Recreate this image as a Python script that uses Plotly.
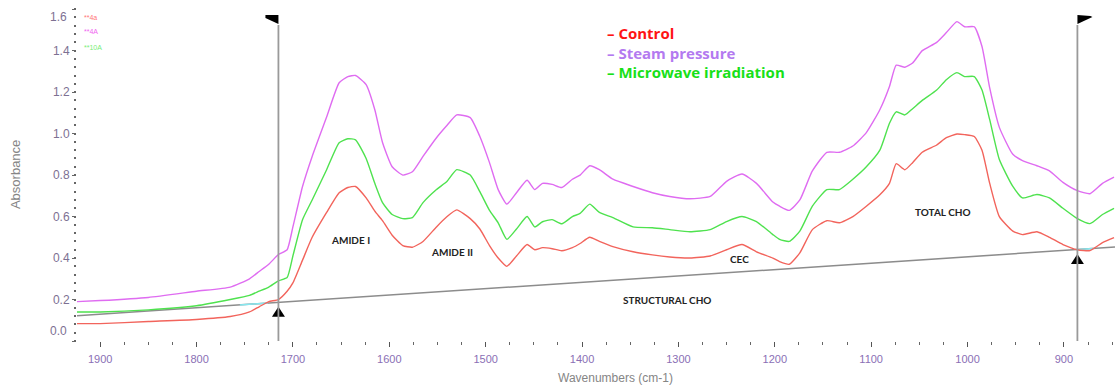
import numpy as np
import plotly.graph_objects as go

# ---------------- data ----------------
wavenumber = [1924, 1900, 1850, 1800, 1765, 1745, 1735, 1725, 1715, 1706,
              1700, 1690, 1680, 1665, 1652, 1643, 1635, 1624, 1615, 1607,
              1597, 1586, 1576, 1565, 1551, 1540, 1530, 1516, 1506, 1496,
              1487, 1478, 1468, 1457, 1449, 1441, 1431, 1421, 1410, 1402,
              1392, 1382, 1368, 1347, 1327, 1309, 1288, 1267, 1250, 1234,
              1219, 1202, 1195, 1185, 1174, 1161, 1146, 1133, 1119, 1105,
              1091, 1081, 1074, 1065, 1057, 1047, 1032, 1022, 1011, 1003,
              993, 985, 977, 967, 953, 943, 928, 915, 901, 886,
              873, 860, 848]

control = [0.084, 0.084, 0.094, 0.104, 0.118, 0.14, 0.165, 0.19, 0.20, 0.24,
           0.28, 0.39, 0.50, 0.62, 0.715, 0.74, 0.745, 0.69, 0.626, 0.58,
           0.51, 0.46, 0.452, 0.48, 0.55, 0.60, 0.632, 0.59, 0.54, 0.46,
           0.40, 0.36, 0.41, 0.465, 0.44, 0.45, 0.445, 0.435, 0.45, 0.47,
           0.50, 0.48, 0.455, 0.43, 0.415, 0.405, 0.40, 0.41, 0.44, 0.465,
           0.43, 0.40, 0.383, 0.37, 0.425, 0.537, 0.58, 0.57, 0.60, 0.65,
           0.705, 0.76, 0.855, 0.826, 0.86, 0.91, 0.945, 0.98, 0.998, 0.995,
           0.986, 0.92, 0.76, 0.60, 0.53, 0.513, 0.527, 0.50, 0.465, 0.44,
           0.436, 0.474, 0.498]

steam = [0.19, 0.195, 0.21, 0.24, 0.26, 0.30, 0.335, 0.37, 0.417, 0.44,
         0.55, 0.745, 0.89, 1.08, 1.245, 1.275, 1.28, 1.236, 1.115, 0.957,
         0.84, 0.80, 0.816, 0.89, 0.98, 1.04, 1.09, 1.077, 0.986, 0.86,
         0.73, 0.66, 0.715, 0.775, 0.73, 0.76, 0.755, 0.74, 0.78, 0.80,
         0.845, 0.826, 0.78, 0.745, 0.715, 0.697, 0.686, 0.697, 0.77, 0.805,
         0.76, 0.67, 0.65, 0.63, 0.68, 0.82, 0.91, 0.91, 0.94, 1.005,
         1.115, 1.227, 1.33, 1.32, 1.34, 1.40, 1.44, 1.487, 1.54, 1.515,
         1.515, 1.42, 1.22, 1.03, 0.90, 0.87, 0.845, 0.82, 0.765, 0.725,
         0.71, 0.76, 0.79]

microwave = [0.14, 0.14, 0.15, 0.17, 0.20, 0.22, 0.24, 0.26, 0.29, 0.306,
             0.41, 0.585, 0.68, 0.826, 0.956, 0.975, 0.97, 0.88, 0.76, 0.667,
             0.61, 0.59, 0.595, 0.667, 0.73, 0.77, 0.826, 0.80, 0.72, 0.63,
             0.57, 0.49, 0.54, 0.60, 0.55, 0.575, 0.585, 0.565, 0.60, 0.615,
             0.66, 0.62, 0.595, 0.55, 0.546, 0.537, 0.527, 0.537, 0.576, 0.60,
             0.576, 0.513, 0.49, 0.48, 0.53, 0.65, 0.73, 0.73, 0.78, 0.84,
             0.92, 1.05, 1.105, 1.09, 1.12, 1.16, 1.21, 1.26, 1.294, 1.275,
             1.275, 1.21, 1.067, 0.875, 0.745, 0.69, 0.706, 0.69, 0.64, 0.59,
             0.566, 0.61, 0.64]

baseline_x = [1924, 847]
baseline_y = [0.122, 0.453]

region_bounds = [1715, 886]          # integration limits (vertical markers)
marker_top = 1.524                    # top of the vertical marker lines

y_ticks = [0.0, 0.2, 0.4, 0.6, 0.8, 1.0, 1.2, 1.4, 1.6]
x_ticks = [1900, 1800, 1700, 1600, 1500, 1400, 1300, 1200, 1100, 1000, 900]

series_names = ["Control", "Steam pressure", "Microwave irradiation"]
series_line_colors = ["#f2645c", "#df6cf1", "#4fe24f"]
legend_text_colors = ["#ff1414", "#b37af0", "#18e018"]
file_tags = ["**4a", "**4A", "**10A"]
file_tag_colors = ["#ff7777", "#f066f0", "#77ee77"]

region_labels = ["AMIDE I", "AMIDE II", "CEC", "STRUCTURAL CHO", "TOTAL CHO"]
region_label_x = [1640, 1535, 1237, 1312, 1025]
region_label_y = [0.489, 0.427, 0.393, 0.197, 0.624]

# ---------------- figure ----------------
fig = go.Figure()

fig.add_trace(go.Scatter(x=baseline_x, y=baseline_y, mode="lines",
                         line=dict(color="#8c8c8c", width=1.5),
                         hoverinfo="skip"))

# little cyan baseline pieces at the anchors
bx = np.array(baseline_x[::-1], dtype=float)
by = np.array(baseline_y[::-1], dtype=float)
for a, b in [(1755, 1726), (885, 870)]:
    xs = [a, b]
    fig.add_trace(go.Scatter(x=xs, y=list(np.interp(xs, bx, by)), mode="lines",
                             line=dict(color="#86e8f0", width=1.5),
                             hoverinfo="skip"))

for vals, col, nm in [(microwave, series_line_colors[2], series_names[2]),
                      (steam, series_line_colors[1], series_names[1]),
                      (control, series_line_colors[0], series_names[0])]:
    fig.add_trace(go.Scatter(x=wavenumber, y=vals, mode="lines", name=nm,
                             line=dict(color=col, width=1.4, shape="spline",
                                       smoothing=0.5)))

shapes = []
for i, wx in enumerate(region_bounds):
    b = float(np.interp(wx, bx, by))
    # arrow under the baseline
    shapes.append(dict(type="path", xref="x", yref="y", xsizemode="pixel",
                       ysizemode="pixel", xanchor=wx, yanchor=b,
                       path="M -6.5 -14.5 L 6.5 -14.5 L 0 -4.5 Z",
                       fillcolor="black", line=dict(width=0)))
    # vertical marker line
    shapes.append(dict(type="line", xref="x", yref="y", x0=wx, x1=wx,
                       y0=0, y1=marker_top,
                       line=dict(color="#9a9a9a", width=1.8)))
    # flag at the top
    path = ("M -13 10 L 0 10 L 0 1 L -13 7 Z" if i == 0
            else "M 0 10 L 13 9 L 15 8 L 0 1 Z")
    shapes.append(dict(type="path", xref="x", yref="y", xsizemode="pixel",
                       ysizemode="pixel", xanchor=wx, yanchor=marker_top,
                       path=path, fillcolor="black", line=dict(width=0)))

annotations = []
# legend text (one block, coloured lines)
legend_html = "<br>".join(
    f"<span style='color:{c}'><b>\u2013 {n}</b></span>"
    for n, c in zip(series_names, legend_text_colors))
annotations.append(dict(xref="paper", yref="paper", x=0.5087, y=0.952,
                        xanchor="left", yanchor="top", align="left",
                        showarrow=False, text=legend_html,
                        font=dict(family="Open Sans", size=15,
                                  color=legend_text_colors[0])))
# tiny file tags
for k, (t, col) in enumerate(zip(file_tags, file_tag_colors)):
    annotations.append(dict(xref="paper", yref="paper", x=0.005,
                            y=[0.964, 0.920, 0.875][k], xanchor="left",
                            yanchor="middle", showarrow=False, text=t,
                            font=dict(family="Liberation Sans", size=7,
                                      color=col)))
# region labels
for t, xv, yv in zip(region_labels, region_label_x, region_label_y):
    annotations.append(dict(xref="x", yref="y", x=xv, y=yv, showarrow=False,
                            text="<b>" + t + "</b>", xanchor="center",
                            yanchor="middle",
                            font=dict(family="Lato", size=10, color="#222")))
# shifted end labels of the y axis
annotations.append(dict(xref="paper", yref="y", x=0, y=0.0, xanchor="right",
                        yanchor="middle", xshift=-8, yshift=10,
                        showarrow=False, text="0.0",
                        font=dict(family="Liberation Sans", size=12,
                                  color="#7d7092")))
annotations.append(dict(xref="paper", yref="y", x=0, y=1.6, xanchor="right",
                        yanchor="middle", xshift=-8, yshift=-8,
                        showarrow=False, text="1.6",
                        font=dict(family="Liberation Sans", size=12,
                                  color="#7d7092")))
# axis titles
annotations.append(dict(xref="paper", yref="paper", x=0.519, y=-0.110,
                        xanchor="center", yanchor="middle", showarrow=False,
                        text="Wavenumbers (cm-1)",
                        font=dict(family="Liberation Sans", size=12,
                                  color="#858585")))
annotations.append(dict(xref="paper", yref="paper", x=-0.0597, y=0.494,
                        xanchor="center", yanchor="middle", showarrow=False,
                        textangle=-90, text="Absorbance",
                        font=dict(family="Liberation Sans", size=13,
                                  color="#858585")))

y_ticktext = ["" if v in (0.0, 1.6) else f"{v:.1f}" for v in y_ticks]

fig.update_layout(
    width=1115, height=385,
    margin=dict(l=77, r=0, t=5, b=44),
    paper_bgcolor="white", plot_bgcolor="white",
    showlegend=False,
    shapes=shapes, annotations=annotations,
    xaxis=dict(range=[1924, 847], tickvals=x_ticks,
               ticktext=[str(v) for v in x_ticks],
               ticks="outside", ticklen=5, tickwidth=1, tickcolor="#555",
               ticklabelstandoff=3,
               showgrid=False, zeroline=False, showline=False,
               tickfont=dict(family="Liberation Sans", size=11,
                             color="#8a6fb5"),
               minor=dict(dtick=25, tick0=0, ticks="outside", ticklen=3,
                          tickcolor="#666", showgrid=False)),
    yaxis=dict(range=[0, 1.62], tickvals=y_ticks, ticktext=y_ticktext,
               ticks="outside", ticklen=4, tickwidth=1, tickcolor="#666",
               showgrid=False, zeroline=False, showline=False,
               tickfont=dict(family="Liberation Sans", size=12,
                             color="#7d7092"),
               minor=dict(dtick=0.04, tick0=0, ticks="outside", ticklen=2,
                          tickwidth=1.5, tickcolor="#666", showgrid=False)),
)

fig.write_html("out.html", config={"displayModeBar": False})
